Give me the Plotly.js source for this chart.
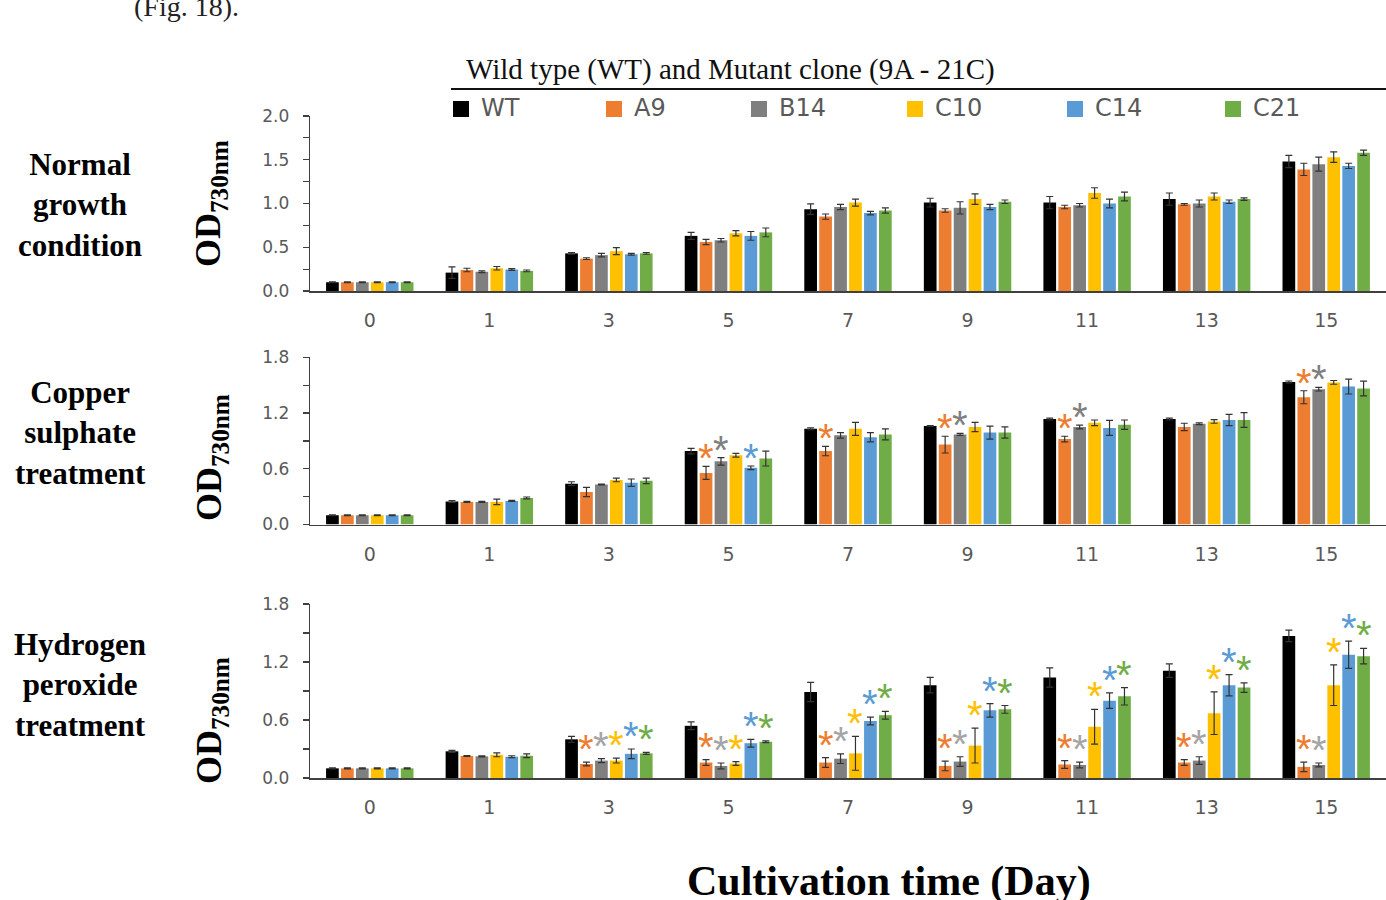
<!DOCTYPE html>
<html><head><meta charset="utf-8">
<script src="https://cdn.plot.ly/plotly-3.0.1.min.js"></script>
<style>html,body{margin:0;padding:0;background:#fff;} #chart{width:1386px;height:900px;}</style>
</head><body><div id="chart"></div>
<script>
// ---------------- DATA ----------------
const days = ['0','1','3','5','7','9','11','13','15'];
const series = ['WT','A9','B14','C10','C14','C21'];
const colors = ['#000000','#ED7D31','#7F7F7F','#FFC000','#5B9BD5','#70AD47'];
const panelNames = ['Normal<br>growth<br>condition','Copper<br>sulphate<br>treatment','Hydrogen<br>peroxide<br>treatment'];
const legendTitle = 'Wild type (WT) and Mutant clone (9A - 21C)';
const xTitle = 'Cultivation time (Day)';
const yTitle = 'OD<sub>730nm</sub>';

// Normal growth condition
const normWT  = [0.10,0.21,0.43,0.63,0.935,1.01,1.01,1.05,1.48];
const normA9  = [0.10,0.24,0.37,0.56,0.85,0.92,0.96,0.99,1.39];
const normB14 = [0.10,0.22,0.41,0.58,0.96,0.95,0.98,1.00,1.45];
const normC10 = [0.10,0.26,0.455,0.66,1.01,1.05,1.12,1.08,1.53];
const normC14 = [0.10,0.245,0.42,0.63,0.89,0.96,1.00,1.02,1.43];
const normC21 = [0.10,0.23,0.43,0.67,0.92,1.02,1.08,1.05,1.58];
const normWTErr  = [0.005,0.065,0.01,0.04,0.06,0.05,0.07,0.07,0.07];
const normA9Err  = [0.005,0.02,0.01,0.03,0.03,0.02,0.02,0.01,0.07];
const normB14Err = [0.005,0.01,0.02,0.02,0.03,0.07,0.02,0.04,0.08];
const normC10Err = [0.005,0.02,0.04,0.03,0.04,0.06,0.06,0.04,0.06];
const normC14Err = [0.005,0.01,0.01,0.05,0.02,0.03,0.05,0.02,0.03];
const normC21Err = [0.005,0.01,0.01,0.05,0.03,0.02,0.05,0.015,0.03];

// Copper sulphate treatment
const cuWT  = [0.10,0.247,0.44,0.79,1.03,1.06,1.135,1.135,1.535];
const cuA9  = [0.10,0.243,0.35,0.555,0.79,0.86,0.92,1.05,1.37];
const cuB14 = [0.10,0.243,0.43,0.68,0.96,0.97,1.05,1.085,1.457];
const cuC10 = [0.10,0.243,0.48,0.745,1.03,1.05,1.095,1.11,1.53];
const cuC14 = [0.10,0.254,0.45,0.61,0.94,0.99,1.04,1.125,1.485];
const cuC21 = [0.10,0.286,0.47,0.71,0.97,0.99,1.075,1.125,1.464];
const cuWTErr  = [0.005,0.01,0.02,0.03,0.01,0.005,0.01,0.01,0.01];
const cuA9Err  = [0.005,0.005,0.05,0.07,0.05,0.09,0.03,0.04,0.07];
const cuB14Err = [0.005,0.005,0.005,0.04,0.03,0.01,0.02,0.01,0.02];
const cuC10Err = [0.005,0.03,0.02,0.02,0.07,0.05,0.03,0.02,0.02];
const cuC14Err = [0.005,0.005,0.04,0.02,0.05,0.07,0.08,0.06,0.08];
const cuC21Err = [0.005,0.01,0.03,0.08,0.06,0.06,0.05,0.08,0.08];
// significance marks (1 = asterisk)
const cuSigA9  = [0,0,0,1,1,1,1,0,1];
const cuSigB14 = [0,0,0,1,0,1,1,0,1];
const cuSigC14 = [0,0,0,1,0,0,0,0,0];

// Hydrogen peroxide treatment
const hpWT  = [0.10,0.276,0.40,0.54,0.89,0.96,1.04,1.11,1.47];
const hpA9  = [0.10,0.228,0.145,0.16,0.16,0.125,0.14,0.16,0.115];
const hpB14 = [0.10,0.224,0.18,0.125,0.20,0.17,0.135,0.18,0.135];
const hpC10 = [0.10,0.24,0.18,0.15,0.255,0.335,0.53,0.67,0.96];
const hpC14 = [0.10,0.22,0.25,0.36,0.59,0.70,0.80,0.96,1.275];
const hpC21 = [0.10,0.23,0.255,0.375,0.65,0.71,0.845,0.935,1.26];
const hpWTErr  = [0.005,0.01,0.03,0.04,0.10,0.08,0.10,0.07,0.06];
const hpA9Err  = [0.005,0.005,0.02,0.03,0.05,0.05,0.04,0.03,0.05];
const hpB14Err = [0.005,0.005,0.02,0.03,0.05,0.05,0.03,0.04,0.02];
const hpC10Err = [0.005,0.02,0.025,0.02,0.175,0.18,0.18,0.22,0.21];
const hpC14Err = [0.005,0.01,0.05,0.04,0.04,0.07,0.08,0.11,0.14];
const hpC21Err = [0.005,0.02,0.01,0.01,0.04,0.04,0.09,0.05,0.08];
const hpSig = [0,0,1,1,1,1,1,1,1];

const yTicks1 = [0,0.5,1.0,1.5,2.0];
const yTicks23 = [0,0.6,1.2,1.8];

// ---------------- BUILD ----------------
const W = 1386, H = 900;
const px = p => p / W;
const py = p => 1 - p / H;
const BARGAP = 0.25, GROUPGAP = 0.15;
const xDom = [px(310), 1];
const catW = (xDom[1]-xDom[0]) * W / days.length;
const slot = catW * (1 - BARGAP) / series.length;

const panels = [
  {vals:[normWT,normA9,normB14,normC10,normC14,normC21], errs:[normWTErr,normA9Err,normB14Err,normC10Err,normC14Err,normC21Err],
   sig:[null,null,null,null,null,null], starColors:colors, yr:[0,2.0], ticks:yTicks1, minor:0.25, dom:[py(291),py(116)], shift:10},
  {vals:[cuWT,cuA9,cuB14,cuC10,cuC14,cuC21], errs:[cuWTErr,cuA9Err,cuB14Err,cuC10Err,cuC14Err,cuC21Err],
   sig:[null,cuSigA9,cuSigB14,null,cuSigC14,null], starColors:colors, yr:[0,1.8], ticks:yTicks23, minor:0.3, dom:[py(524.5),py(357.3)], shift:8},
  {vals:[hpWT,hpA9,hpB14,hpC10,hpC14,hpC21], errs:[hpWTErr,hpA9Err,hpB14Err,hpC10Err,hpC14Err,hpC21Err],
   sig:[null,hpSig,hpSig,hpSig,hpSig,hpSig], starColors:['#000000','#ED7D31','#A5A5A5','#FFC000','#5B9BD5','#70AD47'], yr:[0,1.8], ticks:yTicks23, minor:0.3, dom:[py(778),py(604)], shift:13}
];

const traces = [];
const annotations = [];
const shapes = [];
const layout = {
  width: W, height: H, margin:{l:0,r:0,t:0,b:0}, paper_bgcolor:'#fff', plot_bgcolor:'#fff',
  barmode:'group', bargap:BARGAP, bargroupgap:GROUPGAP, showlegend:false,
  font:{family:'DejaVu Sans', color:'#595959'}
};

panels.forEach((p, k) => {
  const xa = k === 0 ? 'x' : 'x' + (k+1);
  const ya = k === 0 ? 'y' : 'y' + (k+1);
  p.vals.forEach((v, i) => {
    traces.push({
      type:'bar', x:days, y:v, name:series[i], xaxis:xa, yaxis:ya,
      marker:{color:colors[i], line:{width:0}},
      error_y:{type:'data', array:p.errs[i], visible:true, color:'#333333', thickness:1.2, width:3.5},
      showlegend:false, hoverinfo:'x+y+name'
    });
    if (p.sig[i]) {
      p.sig[i].forEach((f, j) => {
        if (!f) return;
        annotations.push({
          xref:xa, yref:ya, x:j, y:v[j] + p.errs[i][j],
          xshift:(i - (series.length-1)/2) * slot, yshift:p.shift,
          text:'*', showarrow:false, xanchor:'center', yanchor:'middle',
          font:{family:'Liberation Sans', size:40, color:p.starColors[i]}
        });
      });
    }
  });
  const xKey = k === 0 ? 'xaxis' : 'xaxis' + (k+1);
  const yKey = k === 0 ? 'yaxis' : 'yaxis' + (k+1);
  layout[xKey] = {
    domain:xDom, anchor:ya, type:'category', categoryorder:'array', categoryarray:days,
    range:[-0.5, days.length - 0.5],
    showline:true, linecolor:'#404040', linewidth:1.5, ticks:'', showgrid:false, zeroline:false,
    tickfont:{family:'DejaVu Sans', size:19, color:'#595959'}, ticklabelstandoff:12, fixedrange:true
  };
  layout[yKey] = {
    domain:p.dom, anchor:xa, range:p.yr, tickvals:p.ticks, tickformat:'.1f',
    showline:true, linecolor:'#404040', linewidth:1.3, ticks:'outside', ticklen:6, tickcolor:'#404040', tickwidth:1.2,
    minor:{dtick:p.minor, tick0:0, ticks:'outside', ticklen:6, tickcolor:'#404040', tickwidth:1.2, showgrid:false},
    showgrid:false, zeroline:false,
    tickfont:{family:'DejaVu Sans', size:17, color:'#595959'}, ticklabelstandoff:10, fixedrange:true
  };
});

// panel side labels and y titles
const sideY = [205, 433, 685];
const odY = [203, 457, 720];
panelNames.forEach((n, k) => {
  annotations.push({xref:'paper', yref:'paper', x:px(80), y:py(sideY[k]), text:'<b>'+n+'</b>', showarrow:false,
    xanchor:'center', yanchor:'middle', align:'center',
    font:{family:'Liberation Serif', size:31, color:'#000'}});
  annotations.push({xref:'paper', yref:'paper', x:px(211), y:py(odY[k]), text:'<b>'+yTitle+'</b>', showarrow:false,
    textangle:-90, xanchor:'center', yanchor:'middle',
    font:{family:'Liberation Serif', size:36, color:'#000'}});
});

// legend block
annotations.push({xref:'paper', yref:'paper', x:px(464), y:py(70), text:legendTitle, showarrow:false,
  xanchor:'left', yanchor:'middle', font:{family:'Liberation Serif', size:29, color:'#111'}});
shapes.push({type:'line', xref:'paper', yref:'paper', x0:px(451), x1:1, y0:py(89), y1:py(89), line:{color:'#111', width:2}});
const legX = [453, 606, 751, 907, 1067, 1225];
series.forEach((s, i) => {
  shapes.push({type:'rect', xref:'paper', yref:'paper', x0:px(legX[i]), x1:px(legX[i]+16), y0:py(117), y1:py(101),
    fillcolor:colors[i], line:{width:0}});
  annotations.push({xref:'paper', yref:'paper', x:px(legX[i]+26), y:py(108), text:s, showarrow:false,
    xanchor:'left', yanchor:'middle', font:{family:'DejaVu Sans', size:24, color:'#595959'}});
});

// bottom axis title and caption fragment
annotations.push({xref:'paper', yref:'paper', x:px(889), y:py(881), text:'<b>'+xTitle+'</b>', showarrow:false,
  xanchor:'center', yanchor:'middle', font:{family:'Liberation Serif', size:42, color:'#000'}});
annotations.push({xref:'paper', yref:'paper', x:px(132), y:py(6), text:'(Fig. 18).', showarrow:false,
  xanchor:'left', yanchor:'middle', font:{family:'Liberation Serif', size:28, color:'#222'}});

layout.annotations = annotations;
layout.shapes = shapes;

Plotly.newPlot('chart', traces, layout, {displayModeBar:false, staticPlot:true});
</script>
</body></html>
